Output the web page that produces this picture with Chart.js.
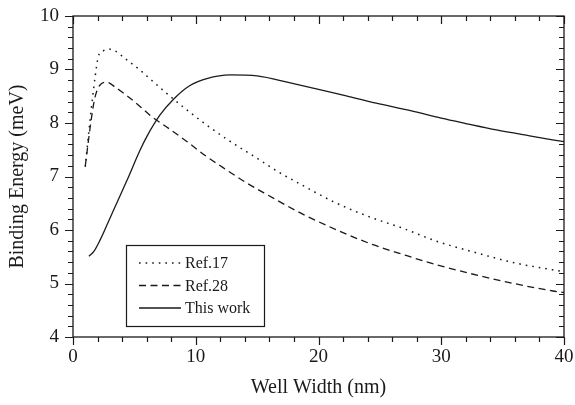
<!DOCTYPE html>
<html>
<head>
<meta charset="utf-8">
<script src="https://cdn.jsdelivr.net/npm/chart.js@4.4.1/dist/chart.umd.min.js"></script>
<style>
  html, body { margin: 0; padding: 0; background: #fff; }
  #wrap { width: 575px; height: 405px; }
</style>
</head>
<body>
<div id="wrap"><canvas id="grafica" width="575" height="405"></canvas></div>
<script>
// valores
var anchoRef17 = [1.0, 1.33, 1.6, 1.8, 2.06, 2.47, 3.0, 3.5, 4.1, 5.3, 6.4, 7.6, 9.3, 10.9, 12.65, 15, 16.7, 18.9, 21.2, 24.1, 26.9, 29.5, 32.6, 36.1, 40];
var ref17 = [7.18, 7.93, 8.49, 8.86, 9.24, 9.35, 9.38, 9.34, 9.23, 9.02, 8.80, 8.56, 8.24, 7.96, 7.68, 7.34, 7.09, 6.81, 6.53, 6.25, 6.03, 5.80, 5.59, 5.38, 5.22];

var anchoRef28 = [1.0, 1.52, 1.8, 2.2, 2.74, 3.56, 4.5, 5.46, 6.4, 7.6, 9.3, 10.9, 12.2, 14, 15.9, 18.6, 21.5, 24.5, 27.2, 29.3, 32.3, 35.9, 39.1, 40];
var ref28 = [7.20, 8.12, 8.49, 8.71, 8.76, 8.65, 8.49, 8.31, 8.12, 7.93, 7.65, 7.37, 7.17, 6.90, 6.65, 6.31, 6.00, 5.72, 5.52, 5.37, 5.19, 5.00, 4.86, 4.83];

var anchoEsteTrabajo = [1.3, 1.7, 2.2, 2.7, 3.3, 4.4, 5.46, 6, 7.09, 8.17, 9.53, 10.9, 12.8, 15, 17.7, 20, 22, 24.7, 27.5, 30, 32, 34.5, 37.2, 40];
var esteTrabajo = [5.51, 5.60, 5.81, 6.06, 6.37, 6.93, 7.49, 7.74, 8.15, 8.44, 8.70, 8.83, 8.90, 8.88, 8.75, 8.63, 8.52, 8.37, 8.23, 8.09, 7.99, 7.87, 7.76, 7.65];

var etiquetas = ["Ref.17", "Ref.28", "This work"];
var tituloX = "Well Width (nm)";
var tituloY = "Binding Energy (meV)";

var fuente = "'Liberation Serif', 'Times New Roman', serif";
var negro = "#1a1a1a";

function puntos(xs, ys) {
    var out = [];
    for (var i = 0; i < xs.length; i++) out.push({x: xs[i], y: ys[i]});
    return out;
}

function sinRelleno(s) {
    s.paddingTop = 0; s.paddingBottom = 0; s.paddingLeft = 0; s.paddingRight = 0;
}

// marcas de los ejes: afuera abajo/izquierda, adentro arriba/derecha
var marcasEjes = {
    id: "marcasEjes",
    afterDraw: function(chart) {
        var ctx = chart.ctx, a = chart.chartArea;
        var sx = chart.scales.x, sy = chart.scales.y;
        ctx.save();
        ctx.strokeStyle = negro;
        ctx.lineWidth = 1.3;
        ctx.strokeRect(a.left, a.top, a.right - a.left, a.bottom - a.top);
        ctx.lineWidth = 1.2;
        ctx.beginPath();
        for (var v = 0; v <= 40; v += 2) {
            var px = Math.round(sx.getPixelForValue(v)) + 0.5;
            var l = (v % 10 === 0) ? 8 : 5;
            ctx.moveTo(px, a.bottom); ctx.lineTo(px, a.bottom + l);
            ctx.moveTo(px, a.top); ctx.lineTo(px, a.top + l);
        }
        for (var k = 0; k <= 30; k++) {
            var val = 4 + k * 0.2;
            var py = Math.round(sy.getPixelForValue(val)) + 0.5;
            var ly = (k % 5 === 0) ? 8 : 5;
            ctx.moveTo(a.left, py); ctx.lineTo(a.left - ly, py);
            ctx.moveTo(a.right, py); ctx.lineTo(a.right - ly, py);
        }
        ctx.stroke();
        ctx.restore();
    }
};

// leyenda dentro del grafico, con caja
var leyendaCaja = {
    id: "leyendaCaja",
    afterDraw: function(chart) {
        var ctx = chart.ctx;
        var x0 = 126, y0 = 245, w = 138, h = 81;
        ctx.save();
        ctx.fillStyle = "#fff";
        ctx.fillRect(x0, y0, w, h);
        ctx.strokeStyle = negro;
        ctx.lineWidth = 1.2;
        ctx.strokeRect(x0 + 0.5, y0 + 0.5, w, h);
        ctx.font = "16px " + fuente;
        ctx.textBaseline = "middle";
        ctx.fillStyle = negro;
        chart.data.datasets.forEach(function(ds, i) {
            var yy = y0 + 18 + i * 22.5;
            ctx.beginPath();
            ctx.setLineDash(ds.borderDash || []);
            ctx.lineWidth = ds.borderWidth;
            ctx.moveTo(139, yy);
            ctx.lineTo(181, yy);
            ctx.stroke();
            ctx.setLineDash([]);
            ctx.fillText(ds.label, 185, yy + 1);
        });
        ctx.restore();
    }
};

var ctx = document.getElementById("grafica").getContext("2d");
var miGrafica = new Chart(ctx, {
    type: "scatter",
    data: {
        datasets: [
            {
                label: etiquetas[0],
                data: puntos(anchoRef17, ref17),
                showLine: true,
                borderColor: negro,
                borderWidth: 1.5,
                borderDash: [1.6, 5],
                pointRadius: 0,
                cubicInterpolationMode: "monotone"
            },
            {
                label: etiquetas[1],
                data: puntos(anchoRef28, ref28),
                showLine: true,
                borderColor: negro,
                borderWidth: 1.3,
                borderDash: [7, 4.5],
                pointRadius: 0,
                cubicInterpolationMode: "monotone"
            },
            {
                label: etiquetas[2],
                data: puntos(anchoEsteTrabajo, esteTrabajo),
                showLine: true,
                borderColor: negro,
                borderWidth: 1.3,
                pointRadius: 0,
                cubicInterpolationMode: "monotone"
            }
        ]
    },
    options: {
        responsive: false,
        animation: false,
        layout: { padding: { top: 16, right: 11, left: 0, bottom: 0 } },
        plugins: { legend: { display: false }, tooltip: { enabled: false } },
        scales: {
            x: {
                type: "linear",
                min: 0, max: 40,
                afterFit: function(s) { s.height = 68; sinRelleno(s); },
                grid: { display: false, drawTicks: false },
                border: { display: false },
                ticks: { stepSize: 10, padding: 9, color: negro, font: { family: fuente, size: 19 } },
                title: { display: true, text: tituloX, color: negro, padding: { top: 0, bottom: 5 }, font: { family: fuente, size: 20 } }
            },
            y: {
                min: 4, max: 10,
                afterFit: function(s) { s.width = 73; sinRelleno(s); },
                grid: { display: false, drawTicks: false },
                border: { display: false },
                ticks: { stepSize: 1, padding: 14, color: negro, font: { family: fuente, size: 19 } },
                title: { display: true, text: tituloY, color: negro, padding: { top: 6, bottom: 0 }, font: { family: fuente, size: 20 } }
            }
        }
    },
    plugins: [marcasEjes, leyendaCaja]
});
</script>
</body>
</html>
